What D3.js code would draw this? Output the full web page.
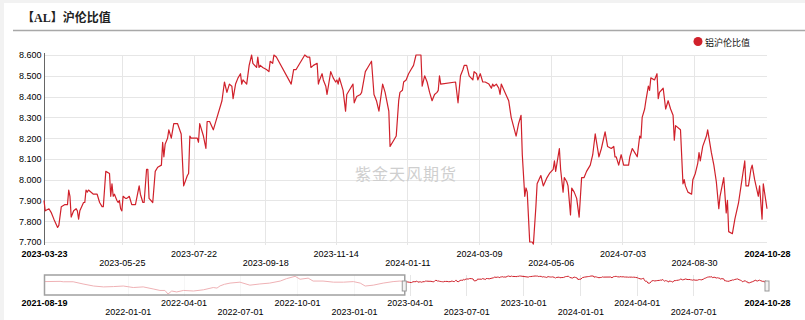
<!DOCTYPE html>
<html>
<head>
<meta charset="utf-8">
<script src="https://cdn.jsdelivr.net/npm/d3@7"></script>
<style>
  body { margin: 0; background: #f2f2f2; }
  svg { display: block; }
</style>
</head>
<body>
<script>
// 铝沪伦比值, daily, 2023-03-23 .. 2024-10-28
const ratioSeries = [
  ["2023-03-23",7.90],["2023-03-24",7.85],["2023-03-27",7.86],["2023-03-29",7.84],["2023-03-31",7.81],
  ["2023-04-03",7.77],["2023-04-04",7.78],["2023-04-06",7.87],["2023-04-09",7.88],["2023-04-11",7.88],
  ["2023-04-12",7.95],["2023-04-13",7.92],["2023-04-14",7.82],["2023-04-16",7.85],["2023-04-18",7.86],
  ["2023-04-19",7.85],["2023-04-20",7.81],["2023-04-21",7.85],["2023-04-24",7.89],["2023-04-25",7.89],
  ["2023-04-26",7.95],["2023-04-27",7.94],["2023-04-28",7.95],["2023-05-02",7.93],["2023-05-05",7.93],
  ["2023-05-07",7.89],["2023-05-09",7.87],["2023-05-10",7.87],["2023-05-12",8.04],["2023-05-15",8.03],
  ["2023-05-16",7.92],["2023-05-17",7.98],["2023-05-18",7.92],["2023-05-19",7.93],["2023-05-21",7.90],
  ["2023-05-22",7.89],["2023-05-23",7.90],["2023-05-24",7.86],["2023-05-25",7.85],["2023-05-26",7.92],
  ["2023-05-28",7.91],["2023-05-29",7.91],["2023-05-31",7.92],["2023-06-02",7.88],["2023-06-05",7.88],
  ["2023-06-08",7.97],["2023-06-09",7.93],["2023-06-11",7.89],["2023-06-12",7.89],["2023-06-14",8.05],
  ["2023-06-15",8.05],["2023-06-16",7.91],["2023-06-19",7.89],["2023-06-21",8.04],["2023-06-23",8.06],
  ["2023-06-26",8.07],["2023-06-27",8.18],["2023-06-28",8.11],["2023-06-29",8.17],["2023-07-01",8.20],
  ["2023-07-02",8.24],["2023-07-04",8.20],["2023-07-06",8.27],["2023-07-09",8.27],["2023-07-12",8.22],
  ["2023-07-14",7.97],["2023-07-17",8.02],["2023-07-18",8.03],["2023-07-19",8.21],["2023-07-20",8.20],
  ["2023-07-23",8.20],["2023-07-25",8.20],["2023-07-26",8.18],["2023-07-27",8.27],["2023-07-30",8.21],
  ["2023-08-01",8.15],["2023-08-02",8.28],["2023-08-04",8.28],["2023-08-07",8.24],["2023-08-10",8.30],
  ["2023-08-14",8.38],["2023-08-16",8.47],["2023-08-18",8.42],["2023-08-20",8.46],["2023-08-22",8.45],
  ["2023-08-23",8.39],["2023-08-25",8.46],["2023-08-27",8.49],["2023-08-29",8.51],["2023-08-30",8.46],
  ["2023-08-31",8.48],["2023-09-03",8.46],["2023-09-05",8.55],["2023-09-07",8.60],["2023-09-08",8.56],
  ["2023-09-11",8.54],["2023-09-12",8.59],["2023-09-13",8.54],["2023-09-14",8.55],["2023-09-16",8.54],
  ["2023-09-19",8.53],["2023-09-21",8.52],["2023-09-22",8.57],["2023-09-24",8.56],["2023-09-25",8.60],
  ["2023-09-27",8.59],["2023-10-09",8.46],["2023-10-11",8.53],["2023-10-13",8.53],["2023-10-16",8.56],
  ["2023-10-17",8.57],["2023-10-20",8.60],["2023-10-22",8.59],["2023-10-24",8.59],["2023-10-25",8.54],
  ["2023-10-27",8.55],["2023-10-30",8.56],["2023-10-31",8.46],["2023-11-01",8.48],["2023-11-03",8.51],
  ["2023-11-04",8.48],["2023-11-06",8.45],["2023-11-07",8.41],["2023-11-10",8.52],["2023-11-12",8.49],
  ["2023-11-13",8.48],["2023-11-14",8.47],["2023-11-15",8.48],["2023-11-16",8.46],["2023-11-17",8.49],
  ["2023-11-20",8.43],["2023-11-22",8.33],["2023-11-23",8.41],["2023-11-26",8.44],["2023-11-28",8.46],
  ["2023-11-29",8.37],["2023-12-01",8.40],["2023-12-04",8.41],["2023-12-05",8.42],["2023-12-08",8.52],
  ["2023-12-10",8.54],["2023-12-13",8.57],["2023-12-15",8.41],["2023-12-17",8.38],["2023-12-19",8.33],
  ["2023-12-22",8.46],["2023-12-24",8.42],["2023-12-27",8.33],["2023-12-28",8.16],["2023-12-31",8.19],
  ["2024-01-02",8.21],["2024-01-04",8.38],["2024-01-05",8.42],["2024-01-07",8.43],["2024-01-08",8.47],
  ["2024-01-10",8.48],["2024-01-12",8.51],["2024-01-14",8.53],["2024-01-16",8.55],["2024-01-18",8.60],
  ["2024-01-22",8.60],["2024-01-23",8.45],["2024-01-25",8.50],["2024-01-27",8.47],["2024-01-29",8.42],
  ["2024-01-31",8.38],["2024-02-02",8.41],["2024-02-04",8.42],["2024-02-05",8.43],["2024-02-06",8.50],
  ["2024-02-07",8.46],["2024-02-19",8.47],["2024-02-21",8.37],["2024-02-23",8.50],["2024-02-25",8.53],
  ["2024-02-26",8.55],["2024-02-28",8.55],["2024-03-01",8.50],["2024-03-04",8.48],["2024-03-05",8.52],
  ["2024-03-07",8.51],["2024-03-08",8.48],["2024-03-10",8.51],["2024-03-12",8.47],["2024-03-14",8.47],
  ["2024-03-17",8.46],["2024-03-19",8.44],["2024-03-20",8.46],["2024-03-21",8.45],["2024-03-23",8.46],
  ["2024-03-25",8.44],["2024-03-26",8.41],["2024-03-27",8.46],["2024-03-30",8.42],["2024-04-02",8.38],
  ["2024-04-04",8.30],["2024-04-08",8.21],["2024-04-10",8.27],["2024-04-12",8.31],["2024-04-13",8.12],
  ["2024-04-15",7.92],["2024-04-16",7.96],["2024-04-17",7.94],["2024-04-19",7.70],["2024-04-21",7.70],
  ["2024-04-22",7.69],["2024-04-24",7.87],["2024-04-25",7.98],["2024-04-28",8.02],["2024-04-30",7.97],
  ["2024-05-03",8.01],["2024-05-05",8.03],["2024-05-08",8.05],["2024-05-09",8.09],["2024-05-10",8.04],
  ["2024-05-13",8.15],["2024-05-14",8.05],["2024-05-16",7.94],["2024-05-17",8.01],["2024-05-19",7.99],
  ["2024-05-20",7.97],["2024-05-22",7.83],["2024-05-23",7.96],["2024-05-25",7.94],["2024-05-27",7.91],
  ["2024-05-29",7.82],["2024-05-31",8.01],["2024-06-02",8.01],["2024-06-04",8.04],["2024-06-07",8.07],
  ["2024-06-09",8.12],["2024-06-11",8.22],["2024-06-14",8.11],["2024-06-16",8.15],["2024-06-19",8.23],
  ["2024-06-21",8.16],["2024-06-24",8.15],["2024-06-26",8.16],["2024-06-27",8.11],["2024-06-28",8.11],
  ["2024-06-30",8.07],["2024-07-02",8.12],["2024-07-04",8.07],["2024-07-08",8.07],["2024-07-09",8.11],
  ["2024-07-11",8.15],["2024-07-13",8.13],["2024-07-15",8.11],["2024-07-17",8.21],["2024-07-18",8.20],
  ["2024-07-19",8.30],["2024-07-21",8.34],["2024-07-22",8.38],["2024-07-24",8.45],["2024-07-25",8.43],
  ["2024-07-26",8.49],["2024-07-29",8.48],["2024-07-31",8.51],["2024-08-01",8.39],["2024-08-02",8.42],
  ["2024-08-05",8.44],["2024-08-07",8.34],["2024-08-09",8.38],["2024-08-11",8.34],["2024-08-13",8.31],
  ["2024-08-14",8.19],["2024-08-15",8.26],["2024-08-19",8.24],["2024-08-21",7.98],["2024-08-22",8.00],
  ["2024-08-23",7.97],["2024-08-25",7.94],["2024-08-28",7.93],["2024-08-29",8.00],["2024-08-31",8.03],
  ["2024-09-02",8.08],["2024-09-03",8.13],["2024-09-04",8.09],["2024-09-06",8.16],["2024-09-09",8.21],
  ["2024-09-10",8.24],["2024-09-13",8.13],["2024-09-15",8.07],["2024-09-17",7.99],["2024-09-19",7.86],
  ["2024-09-20",7.92],["2024-09-23",8.01],["2024-09-25",7.84],["2024-09-26",7.90],["2024-09-27",7.75],
  ["2024-09-30",7.74],["2024-10-02",7.81],["2024-10-05",7.89],["2024-10-07",7.97],["2024-10-10",8.09],
  ["2024-10-11",7.97],["2024-10-13",7.97],["2024-10-15",8.05],["2024-10-16",8.07],["2024-10-18",8.00],
  ["2024-10-21",7.92],["2024-10-22",7.97],["2024-10-24",7.81],["2024-10-25",7.98],["2024-10-28",7.86]
];

// earlier history shown only in the navigator
const historySeries = [
  ["2021-08-19",7.89],["2021-09-14",7.92],["2021-09-19",7.87],["2021-10-05",7.87],["2021-10-21",7.59],
  ["2021-11-07",7.33],["2021-11-23",7.22],["2021-12-09",7.26],["2021-12-25",7.33],["2022-01-10",7.14],
  ["2022-01-26",7.22],["2022-02-11",6.96],["2022-02-22",6.77],["2022-03-02",6.77],["2022-03-07",6.32],
  ["2022-03-13",6.70],["2022-03-21",6.58],["2022-04-01",6.77],["2022-04-17",6.70],["2022-05-03",6.85],
  ["2022-05-19",7.14],["2022-05-25",7.07],["2022-05-30",7.35],["2022-06-06",7.55],["2022-06-15",7.70],
  ["2022-07-01",7.82],["2022-07-17",7.44],["2022-08-02",7.59],["2022-08-18",7.70],["2022-09-04",7.96],
  ["2022-09-14",8.26],["2022-09-28",8.56],["2022-10-06",8.19],["2022-10-19",8.33],["2022-10-27",7.96],
  ["2022-11-12",7.96],["2022-11-29",7.82],["2022-12-15",7.82],["2022-12-31",7.89],["2023-01-11",7.70],
  ["2023-01-19",7.33],["2023-02-01",7.44],["2023-02-17",7.70],["2023-03-05",7.89],["2023-03-16",7.96]
];

const yTicks = [7.7, 7.8, 7.9, 8.0, 8.1, 8.2, 8.3, 8.4, 8.5, 8.6];
const mainTicks = ["2023-03-23","2023-05-25","2023-07-22","2023-09-18","2023-11-14","2024-01-11",
  "2024-03-09","2024-05-06","2024-07-03","2024-08-30","2024-10-28"];
const navTicks = ["2021-08-19","2022-01-01","2022-04-01","2022-07-01","2022-10-01","2023-01-01",
  "2023-04-01","2023-07-01","2023-10-01","2024-01-01","2024-04-01","2024-07-01","2024-10-28"];

const chartTitle = "【AL】沪伦比值";
const seriesName = "铝沪伦比值";
const watermark = "紫金天风期货";

const WIDTH = 805, HEIGHT = 320;
const RED = "#d0212b";
const FONT = "'Liberation Sans', Arial, sans-serif";
const parse = d3.timeParse("%Y-%m-%d");
const fmt = d3.timeFormat("%Y-%m-%d");

const main = ratioSeries.map(d => ({ date: parse(d[0]), value: d[1] }));
const hist = historySeries.map(d => ({ date: parse(d[0]), value: d[1] }));
const all = hist.concat(main);

const svg = d3.select("body").append("svg").attr("width", WIDTH).attr("height", HEIGHT);
svg.append("rect").attr("x", 4).attr("y", 3).attr("width", WIDTH - 4).attr("height", HEIGHT - 3).attr("fill", "#fff");

// title
svg.append("text").attr("x", 22).attr("y", 22)
  .attr("font-family", "'Liberation Serif', 'Noto Sans CJK SC', serif")
  .attr("font-weight", "bold").attr("font-size", 12).attr("fill", "#222")
  .text(chartTitle);
svg.append("line").attr("x1", 13).attr("x2", WIDTH).attr("y1", 30.5).attr("y2", 30.5)
  .attr("stroke", "#a8a8a8").attr("stroke-width", 1.5);

// legend
svg.append("circle").attr("cx", 698).attr("cy", 41.5).attr("r", 4.5).attr("fill", RED);
svg.append("text").attr("x", 705).attr("y", 45.5)
  .attr("font-family", "'Noto Sans CJK SC', sans-serif").attr("font-size", 9).attr("fill", "#111")
  .text(seriesName);

// main scales
const x = d3.scaleTime().domain(d3.extent(main, d => d.date)).range([44, 767]);
const y = d3.scaleLinear().domain([7.7, 8.6]).range([242, 55]);

// grid
svg.append("g").selectAll("line").data(yTicks).enter().append("line")
  .attr("x1", 44).attr("x2", 767).attr("y1", d => Math.round(y(d)) + 0.5).attr("y2", d => Math.round(y(d)) + 0.5)
  .attr("stroke", "#e6e6e6");
svg.append("g").selectAll("line").data(mainTicks.slice(1, -1)).enter().append("line")
  .attr("x1", d => Math.round(x(parse(d))) + 0.5).attr("x2", d => Math.round(x(parse(d))) + 0.5)
  .attr("y1", 55).attr("y2", 245).attr("stroke", "#e6e6e6");

// watermark
svg.append("text").attr("x", 406).attr("y", 180).attr("text-anchor", "middle")
  .attr("font-family", "'Noto Sans CJK SC', sans-serif").attr("font-size", 16)
  .attr("letter-spacing", 1).attr("fill", "#cfcfcf").text(watermark);

// y axis
const yAxis = svg.append("g").attr("transform", "translate(44.5,0)")
  .call(d3.axisLeft(y).tickValues(yTicks).tickFormat(d3.format(".3f")).tickSize(0).tickPadding(3));
yAxis.select(".domain").attr("stroke", "#666").attr("d", "M0,53V245");
yAxis.selectAll("text").attr("font-family", FONT).attr("font-size", 9).attr("fill", "#000");

// x axis
const xAxis = svg.append("g").attr("transform", "translate(0,242)")
  .call(d3.axisBottom(x).tickValues(mainTicks.map(parse)).tickFormat(fmt).tickSize(0));
xAxis.select(".domain").remove();
xAxis.selectAll("text")
  .attr("font-family", FONT).attr("font-size", 9).attr("fill", "#000")
  .attr("dy", 0).attr("y", (d, i) => i % 2 ? 24 : 15)
  .attr("font-weight", (d, i) => (i === 0 || i === mainTicks.length - 1) ? "bold" : "normal");

// main line
svg.append("path").datum(main)
  .attr("fill", "none").attr("stroke", RED).attr("stroke-width", 1.2).attr("stroke-linejoin", "round")
  .attr("d", d3.line().x(d => x(d.date)).y(d => y(d.value)));

// navigator
const nx = d3.scaleTime().domain([all[0].date, main[main.length - 1].date]).range([44, 767]);
const ny = d3.scaleLinear().domain(d3.extent(all, d => d.value)).range([294, 276]);

svg.append("g").selectAll("line").data(navTicks.slice(1, -1)).enter().append("line")
  .attr("x1", d => Math.round(nx(parse(d))) + 0.5).attr("x2", d => Math.round(nx(parse(d))) + 0.5)
  .attr("y1", 275).attr("y2", 296).attr("stroke", "#e6e6e6");

svg.append("path").datum(all)
  .attr("fill", "none").attr("stroke", RED).attr("stroke-width", 1)
  .attr("d", d3.line().x(d => nx(d.date)).y(d => ny(d.value)));

const selLeft = nx(main[0].date), selRight = nx(main[main.length - 1].date);
svg.append("rect").attr("x", 44).attr("y", 275).attr("width", selLeft - 44).attr("height", 20)
  .attr("fill", "#fff").attr("fill-opacity", 0.65);
svg.append("rect").attr("x", 44.5).attr("y", 275).attr("width", selLeft - 44).attr("height", 20)
  .attr("fill", "none").attr("stroke", "#a0a0a0").attr("stroke-width", 1.5);
[selLeft, selRight].forEach(h => {
  svg.append("rect").attr("x", h - 2).attr("y", 281).attr("width", 4).attr("height", 10)
    .attr("fill", "#f2f2f2").attr("stroke", "#999");
});

const navAxis = svg.append("g").attr("transform", "translate(0,294)")
  .call(d3.axisBottom(nx).tickValues(navTicks.map(parse)).tickFormat(fmt).tickSize(0));
navAxis.select(".domain").remove();
navAxis.selectAll("text")
  .attr("font-family", FONT).attr("font-size", 9).attr("fill", "#000")
  .attr("dy", 0).attr("y", (d, i) => i % 2 ? 21 : 12)
  .attr("font-weight", (d, i) => (i === 0 || i === navTicks.length - 1) ? "bold" : "normal");
</script>
</body>
</html>
